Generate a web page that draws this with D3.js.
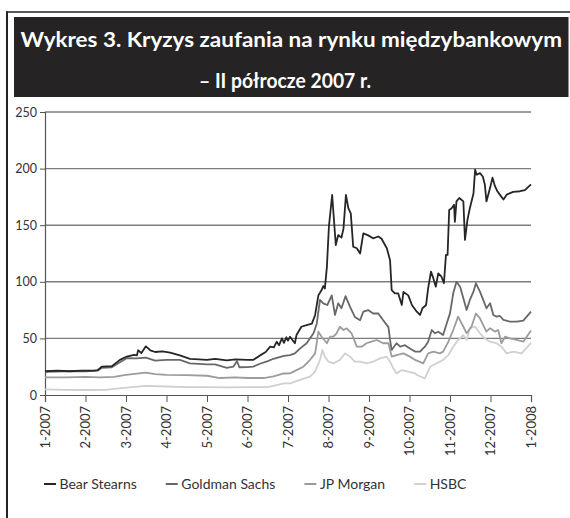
<!DOCTYPE html>
<html>
<head>
<meta charset="utf-8">
<script src="https://cdn.jsdelivr.net/npm/d3@7"></script>
<style>
  html, body { margin: 0; padding: 0; background: #fff; }
  svg { display: block; }
</style>
</head>
<body>
<svg id="chart" width="570" height="518"></svg>
<script>
// ---------------- DATA ----------------
const titleLines = ["Wykres 3. Kryzys zaufania na rynku międzybankowym", "– II półrocze 2007 r."];
const monthLabels = ["1-2007","2-2007","3-2007","4-2007","5-2007","6-2007","7-2007","8-2007","9-2007","10-2007","11-2007","12-2007","1-2008"];
const yTickValues = [0, 50, 100, 150, 200, 250];
const seriesNames = ["Bear Stearns", "Goldman Sachs", "JP Morgan", "HSBC"];

// [months since 1-2007, value]
const bearStearns = [
  [0,21],[0.3,21.5],[0.6,21],[0.9,21.5],[1.2,21.5],[1.3,22],[1.4,25],[1.65,25.5],[1.85,31],[2.02,34],[2.2,35.5],[2.27,35],
  [2.3,39.5],[2.38,37],[2.49,43],[2.6,39.5],[2.72,38],[2.9,38.5],[3.09,37.5],[3.33,35],[3.58,32],[3.8,31.5],[4.0,31],
  [4.2,32],[4.49,30.5],[4.7,31.5],[5.0,31],[5.14,31],[5.31,35],[5.45,38],[5.56,42.7],[5.65,42],[5.72,47],[5.78,44],
  [5.85,50],[5.9,46],[5.96,51],[6.0,48],[6.05,51.5],[6.17,45.7],[6.21,53],[6.33,60.3],[6.46,61.8],[6.59,63],[6.67,70.7],
  [6.75,88],[6.83,92.7],[6.87,96.3],[6.91,94],[6.96,113],[7.01,148.7],[7.09,176.7],[7.18,132.5],[7.24,141.3],[7.32,139],
  [7.37,147],[7.43,176.7],[7.49,165],[7.55,160.5],[7.61,131],[7.70,129.6],[7.78,125],[7.86,142.8],[7.98,141],[8.10,138.4],
  [8.23,140],[8.31,138],[8.44,129.6],[8.52,119],[8.56,92.7],[8.64,89.8],[8.72,89.8],[8.81,79.5],[8.85,91],[8.97,88],
  [9.06,79.5],[9.09,78],[9.18,73.6],[9.26,70.7],[9.32,76.6],[9.41,79.5],[9.46,94.2],[9.53,109],[9.59,103],[9.65,95.7],
  [9.71,107.5],[9.79,104.5],[9.85,98.7],[9.90,123.7],[9.94,123.7],[9.98,163.4],[10.04,165],[10.10,168],[10.12,153],
  [10.16,171],[10.23,174],[10.33,171],[10.37,137],[10.43,154.6],[10.49,165],[10.58,178],[10.62,199],[10.66,194.6],
  [10.74,196],[10.81,193],[10.86,186],[10.90,171],[10.99,183],[11.05,192],[11.11,184.5],[11.17,180],[11.23,177],
  [11.32,172.7],[11.40,177],[11.56,179.5],[11.73,180],[11.85,181],[12,186]
];
const goldmanSachs = [
  [0,20.5],[0.5,21],[1.0,21],[1.3,21.5],[1.4,24],[1.65,24.5],[1.85,29],[2.02,32.5],[2.26,32.4],[2.49,33],[2.72,30.3],
  [3.0,31],[3.33,31],[3.58,28],[4.0,27],[4.2,27],[4.49,24],[4.65,25],[4.74,29.8],[4.8,24.5],[5.0,24.7],[5.14,25],
  [5.31,27.6],[5.5,30],[5.64,32],[5.9,34.5],[6.05,35.3],[6.17,36.8],[6.30,41.2],[6.46,45.7],[6.63,54.5],[6.71,63],
  [6.79,84],[6.87,81],[6.97,79.5],[7.08,88],[7.16,70.7],[7.24,81],[7.32,76.6],[7.42,87.3],[7.53,78],[7.65,69],[7.78,66],
  [7.86,73.6],[7.98,75],[8.10,72],[8.23,72],[8.35,66],[8.48,60],[8.52,48.6],[8.56,39.8],[8.68,45.7],[8.77,42.7],[8.89,44],
  [9.01,41],[9.14,38.3],[9.26,38.3],[9.38,42.7],[9.46,47.1],[9.55,57.4],[9.63,54.5],[9.71,55.9],[9.83,53],[9.92,63.3],
  [10.0,72.1],[10.08,89.8],[10.16,100],[10.25,95.7],[10.33,85.4],[10.41,75.1],[10.49,84],[10.58,91.3],[10.64,98.7],
  [10.74,91.3],[10.82,84],[10.90,76.6],[10.99,81],[11.07,70.7],[11.15,69.2],[11.23,69.8],[11.32,66.3],[11.48,64.8],
  [11.65,64.8],[11.81,65.7],[12,73.6]
];
const jpMorgan = [
  [0,15.6],[0.5,15.5],[1.0,16],[1.36,15.6],[1.7,16],[2.0,17.7],[2.49,19.7],[2.72,18.5],[3.0,17.7],[3.5,17.5],[4.0,17],
  [4.32,15],[4.7,15.5],[5.0,15],[5.4,15],[5.64,16.5],[5.9,19],[6.05,19.1],[6.21,22],[6.38,25],[6.54,30.9],[6.67,36.8],
  [6.75,56],[6.83,51.5],[6.96,45.7],[7.04,51.5],[7.12,51.5],[7.2,54.5],[7.28,60.3],[7.37,57.4],[7.45,58.9],[7.57,54.5],
  [7.70,42.7],[7.82,42.7],[7.94,45.7],[8.06,47.1],[8.19,48.6],[8.35,45.7],[8.48,45.7],[8.56,33.9],[8.68,35.3],[8.85,36.8],
  [9.01,33.9],[9.14,31],[9.34,28],[9.46,36.8],[9.59,38.3],[9.75,36.8],[9.83,38.3],[9.96,47.1],[10.08,57.4],[10.20,69.2],
  [10.33,60.3],[10.41,54.5],[10.53,60.3],[10.64,72],[10.74,67.7],[10.82,61.8],[10.90,56],[10.99,59],[11.11,56],
  [11.19,57.4],[11.27,45.7],[11.36,51.5],[11.48,50],[11.65,48.6],[11.81,47.1],[12,57]
];
const hsbc = [
  [0,5],[0.5,4.5],[1.0,4.4],[1.5,4.5],[2.0,6.5],[2.49,8],[3.0,7.5],[3.5,7],[4.0,7],[4.5,6.8],[5.0,7],[5.5,7],[5.64,8],
  [5.9,10.3],[6.05,10.3],[6.30,13.3],[6.54,16.2],[6.67,20.6],[6.79,30.9],[6.85,39.8],[6.91,33.9],[7.0,29.4],[7.12,27.9],
  [7.28,30.9],[7.41,36.8],[7.53,33.9],[7.65,29.4],[7.78,29.4],[7.94,27.9],[8.10,29.4],[8.27,32.4],[8.44,33.9],[8.52,29.4],
  [8.6,23.5],[8.68,19.1],[8.81,22],[8.97,20.6],[9.14,19.1],[9.18,17.7],[9.38,14.7],[9.51,25],[9.67,28],[9.83,31],
  [9.96,35.3],[10.08,42.7],[10.20,48.6],[10.33,53],[10.41,48.6],[10.49,59],[10.62,60.3],[10.74,54.5],[10.86,50],
  [10.99,47.1],[11.15,45.7],[11.27,42.7],[11.40,36.8],[11.56,38.3],[11.77,36.8],[12,46]
];

// ---------------- DRAWING ----------------
const seriesData = [bearStearns, goldmanSachs, jpMorgan, hsbc];
const seriesColors = ["#262626", "#686868", "#9c9c9c", "#d0d0d0"];

const svg = d3.select("#chart");
const W = 570, H = 518;
const margin = { left: 45, right: 39, top: 112, bottom: 123 };
const x = d3.scaleLinear().domain([0, monthLabels.length - 1]).range([margin.left, W - margin.right]);
const y = d3.scaleLinear().domain([0, 250]).range([H - margin.bottom, margin.top]);

// Outer frame
svg.append("line").attr("x1", 7).attr("x2", 7).attr("y1", 11.5).attr("y2", H)
  .attr("stroke", "#222").attr("stroke-width", 2);
svg.append("line").attr("x1", 6).attr("x2", W).attr("y1", 12).attr("y2", 12)
  .attr("stroke", "#222").attr("stroke-width", 1.5);

// Title box
svg.append("rect").attr("x", 14).attr("y", 17).attr("width", 554.5).attr("height", 80).attr("fill", "#252323");
const titleSpec = [{ x0: 20.5, w: 541.5, base: 47 }, { x0: 199, w: 172, base: 87.5 }];
titleLines.forEach((t, i) => {
  const el = svg.append("text").text(t)
    .attr("x", titleSpec[i].x0).attr("y", titleSpec[i].base)
    .attr("fill", "#fff").attr("font-family", "Lato, 'Open Sans', sans-serif")
    .attr("font-weight", "bold").attr("font-size", 21);
  el.attr("textLength", titleSpec[i].w).attr("lengthAdjust", "spacingAndGlyphs");
});

// Gridlines
const gridG = svg.append("g");
gridG.selectAll("line").data(yTickValues.filter(v => v > 0)).join("line")
  .attr("x1", x(0)).attr("x2", x(12))
  .attr("y1", d => y(d)).attr("y2", d => y(d))
  .attr("stroke", d => d === 250 ? "#3a3a3a" : "#7d7d7d")
  .attr("stroke-width", d => d === 250 ? 1 : 1.4);

// Y axis
const yAxis = d3.axisLeft(y).tickValues(yTickValues).tickSize(5).tickPadding(3).tickFormat(d3.format("d"));
const yG = svg.append("g").attr("transform", `translate(${x(0)},0)`).call(yAxis);
yG.select(".domain").attr("stroke", "#555").attr("stroke-width", 1.2);
yG.selectAll(".tick line").attr("stroke", "#555");
yG.selectAll(".tick text").attr("fill", "#333").attr("font-family", "Lato, sans-serif").attr("font-size", 12.5);

// Series lines (drawn lightest first so darker on top)
const lineGen = d3.line().x(d => x(d[0])).y(d => y(d[1]));
const order = [3, 2, 1, 0];
order.forEach(i => {
  svg.append("path").datum(seriesData[i])
    .attr("d", lineGen).attr("fill", "none")
    .attr("stroke", seriesColors[i]).attr("stroke-width", 1.8)
    .attr("stroke-linejoin", "round");
});

// X axis
const xAxis = d3.axisBottom(x).tickValues(d3.range(monthLabels.length)).tickSize(7).tickFormat(() => "");
const xG = svg.append("g").attr("transform", `translate(0,${y(0)})`).call(xAxis);
xG.select(".domain").attr("stroke", "#555").attr("stroke-width", 1.2);
xG.selectAll(".tick line").attr("stroke", "#555");
svg.append("g").selectAll("text").data(monthLabels).join("text")
  .attr("transform", (d, i) => `translate(${x(i)},${y(0) + 11}) rotate(-90)`)
  .attr("text-anchor", "end").attr("dy", "0.36em")
  .attr("fill", "#333").attr("font-family", "Lato, sans-serif").attr("font-size", 13)
  .text(d => d);

// Legend
let lx = 44;
const ly = 484;
seriesNames.forEach((name, i) => {
  const g = svg.append("g");
  g.append("line").attr("x1", lx).attr("x2", lx + 12).attr("y1", ly).attr("y2", ly)
    .attr("stroke", seriesColors[i]).attr("stroke-width", 2);
  const t = g.append("text").attr("x", lx + 15.5).attr("y", ly).attr("dy", "0.35em")
    .attr("fill", "#333").attr("font-family", "Lato, sans-serif").attr("font-size", 14).text(name);
  const tw = t.node().getComputedTextLength();
  lx = lx + 15.5 + tw + 29;
});
</script>
</body>
</html>
